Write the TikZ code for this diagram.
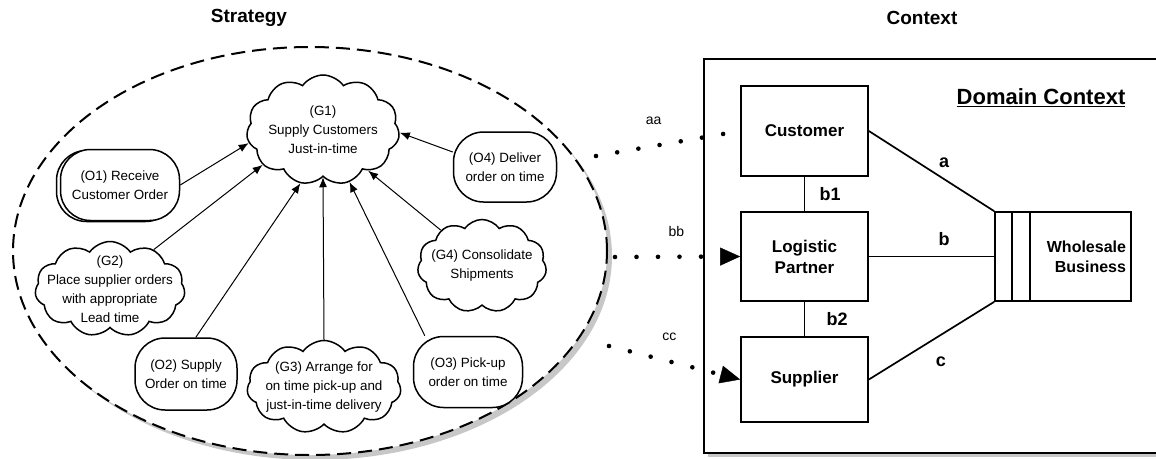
\documentclass[tikz,border=0pt]{standalone}
\usepackage{fontspec}
\setmainfont{Liberation Sans}
\usetikzlibrary{arrows.meta,positioning,shapes.symbols,shadows}

\begin{document}
\begin{tikzpicture}[x=1pt,y=-1pt,
  txt/.style={font=\fontsize{13.4}{19}\selectfont, align=center},
  goal/.style={cloud, draw, line width=1.5pt, fill=white, cloud puffs=11,
               cloud puff arc=110, cloud ignores aspect, txt},
  opr/.style={rectangle, draw, line width=1.5pt, fill=white,
              rounded corners=30pt, inner sep=0pt, txt},
  dom/.style={rectangle, draw, line width=1.7pt, fill=white, minimum width=127pt,
              inner sep=0pt, align=center, font=\fontsize{17}{21}\selectfont\bfseries},
  sup/.style={-{Latex[length=10pt,width=8pt]}, line width=1pt},
  lnk/.style={line width=1.7pt},
  lbl/.style={font=\fontsize{18}{20}\selectfont\bfseries},
  small/.style={font=\fontsize{14}{16}\selectfont},
  dots/.style={line width=4.6pt, line cap=round, dash pattern=on 0pt off 21.5pt},
  tip/.style={-{Triangle[length=20pt,width=18pt,line width=0.4pt]}},
  head/.style={font=\fontsize{19}{22}\selectfont\bfseries},
  shade/.style={fill=black!22}
]
\useasboundingbox (0,0) rectangle (1156,458);
\clip (0,0) rectangle (1156,458);

% strategy area with its grey shadow
\fill[shade] (315,256) ellipse [x radius=297pt, y radius=204pt];
\draw[fill=white, line width=2pt, dash pattern=on 14pt off 7pt]
  (310,251) ellipse [x radius=297pt, y radius=204pt];

% context frame, open to the right
\fill[shade] (708,63) rectangle (1170,457);
\draw[lnk, fill=white] (704,59) rectangle (1170,453);

\node[head] (strat) at (249,18) {Strategy};
\node[head] (ctx)   at (922,18) {Context};
\node[font=\fontsize{22}{24}\selectfont\bfseries] (dctx) at (1041,98)
  {\underline{Domain Context}};

% goals and operations
\node[goal, minimum width=153pt, minimum height=110pt, inner xsep=-8pt, inner ysep=-4pt]
  (g1) at (323,130) {(G1)\\Supply Customers\\Just-in-time};
\node[opr, minimum width=119pt, minimum height=71pt,
      copy shadow={shadow xshift=-4pt, shadow yshift=-1pt}]
  (o1) at (120,185) {(O1) Receive\\Customer Order};
\node[goal, minimum width=150pt, minimum height=95pt, inner xsep=-18pt, inner ysep=-10pt]
  (g2) at (110,289) {(G2)\\Place supplier orders\\with appropriate\\Lead time};
\node[opr, minimum width=102pt, minimum height=72pt]
  (o2) at (186,374) {(O2) Supply\\Order on time};
\node[goal, minimum width=154pt, minimum height=93pt, inner xsep=-14pt, inner ysep=-8pt]
  (g3) at (324,387) {(G3) Arrange for\\on time pick-up and\\just-in-time delivery};
\node[opr, minimum width=109pt, minimum height=71pt]
  (o3) at (468,372) {(O3) Pick-up\\order on time};
\node[goal, minimum width=129pt, minimum height=93pt, inner xsep=-10pt, inner ysep=-4pt]
  (g4) at (482,266) {(G4) Consolidate\\Shipments};
\node[opr, minimum width=103pt, minimum height=70pt]
  (o4) at (505,167) {(O4) Deliver\\order on time};

\draw[sup] (o1.east) -- (g1.190);
\draw[sup] (g2.42)   -- (g1.210);
\draw[sup] (o2.75)   -- (g1.247);
\draw[sup] (g3.north) -- (g1.270);
\draw[sup] (o3.140)  -- (g1.297);
\draw[sup] (g4.139)  -- (g1.318);
\draw[sup] (o4.164)  -- (g1.358);

% domain context
\node[dom, minimum height=90pt] (cust) at (804.5,131)   {Customer};
\node[dom, minimum height=89pt] (lp)   at (804.5,256.5) {Logistic\\Partner};
\node[dom, minimum height=85pt] (supp) at (804.5,379.5) {Supplier};
\node[rectangle, draw, line width=1.7pt, minimum width=136pt, minimum height=89pt,
      inner xsep=5pt, text width=126pt, align=right,
      font=\fontsize{16}{20}\selectfont\bfseries]
  (wb) at (1063,256.5) {Wholesale\\Business};
\draw[lnk] ([xshift=18pt]wb.north west) -- ([xshift=18pt]wb.south west);
\draw[lnk] ([xshift=36pt]wb.north west) -- ([xshift=36pt]wb.south west);

\draw[lnk] (cust) -- node[lbl, right=11pt] {b1} (lp);
\draw[lnk] (lp) -- node[lbl, right=18pt] {b2} (supp);
\draw[lnk] (cust.east) -- node[lbl, pos=.6, above=7pt] {a} (wb.north west);
\draw[lnk] (lp.east) -- node[lbl, pos=.6, above=7pt] {b} (wb.west);
\draw[lnk] (supp.east) -- node[lbl, pos=.575, below=18pt] {c} (wb.south west);

% links between strategy and context
\coordinate (aaS) at (596,156);
\coordinate (bbS) at (615,257);
\coordinate (ccS) at (609,346);
\draw[dots] (aaS) -- node[small, pos=.4, above=16pt] {aa} (cust.west);
\draw[dots, tip] (bbS) -- node[small, pos=.49, above=14pt] {bb} (lp.west);
\draw[dots, tip] (ccS) -- node[small, pos=.46, above=15pt] {cc} (supp.west);

\end{tikzpicture}
\end{document}
